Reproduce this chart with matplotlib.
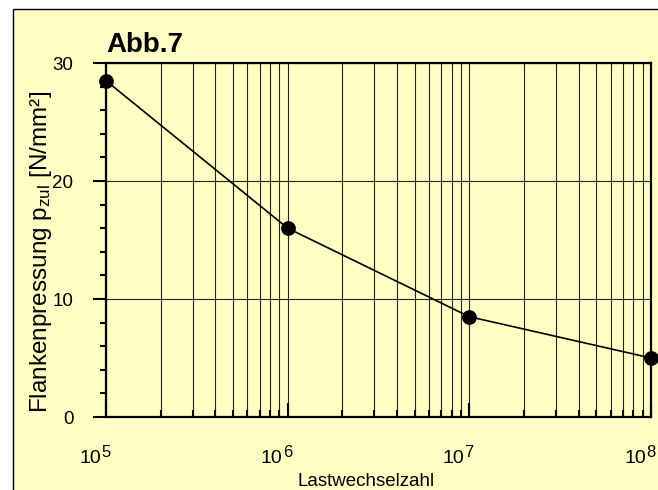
import matplotlib
import matplotlib.pyplot as plt
from matplotlib.patches import Rectangle
from matplotlib.ticker import LogLocator, MultipleLocator, NullFormatter

matplotlib.use("Agg")

plt.rcParams["font.family"] = ["Liberation Sans", "DejaVu Sans"]
plt.rcParams["mathtext.fontset"] = "custom"
plt.rcParams["mathtext.rm"] = "Liberation Sans"
plt.rcParams["mathtext.it"] = "Liberation Sans:italic"

# Data
lastwechsel = [1.0e5, 1.0e6, 1.0e7, 1.0e8]
pressung = [28.5, 16.0, 8.5, 5.0]

x_exponents = [5, 6, 7, 8]
title_text = "Abb.7"
x_label = "Lastwechselzahl"
y_label = r"Flankenpressung p$_{\mathrm{zul}}$ [N/mm²]"

bg = "#FFFFC4"
W, H = 658, 490
PX = 0.72  # points per pixel at dpi 100

fig = plt.figure(figsize=(W / 100, H / 100), dpi=100, facecolor="white")

# Chart area frame (cut off at right and bottom)
fig.patches.append(Rectangle((13 / W, -0.05), 1.1, 1 - 9 / H + 0.05,
                             transform=fig.transFigure, facecolor=bg,
                             edgecolor="black", linewidth=1.0, zorder=-10))

ax = fig.add_axes([106 / W, 1 - 417 / H, (651 - 106) / W, (417 - 63) / H])
ax.set_facecolor(bg)

ax.plot(lastwechsel, pressung, color="black", linewidth=1.2, marker="o",
        markersize=9.6, clip_on=False, zorder=5)

ax.set_xscale("log")
ax.set_xlim(1e5, 1e8)
ax.set_ylim(0, 30)
ax.set_xticks([10.0 ** e for e in x_exponents])
ax.xaxis.set_minor_locator(LogLocator(base=10, subs=range(2, 10), numticks=20))
ax.xaxis.set_minor_formatter(NullFormatter())
ax.set_xticklabels([])
ax.yaxis.set_major_locator(MultipleLocator(10))
ax.yaxis.set_minor_locator(MultipleLocator(2))

ax.grid(True, which="both", axis="x", color="#222222", linewidth=0.8)
ax.grid(True, which="major", axis="y", color="#222222", linewidth=0.8)
ax.set_axisbelow(True)

for s in ax.spines.values():
    s.set_linewidth(1.6)

ax.tick_params(axis="x", which="major", direction="in", length=10, width=1.5)
ax.tick_params(axis="x", which="minor", direction="in", length=5, width=1.5)
ax.tick_params(axis="y", which="major", direction="out", length=9.5, width=1.5,
               pad=14, labelsize=13.5)
ax.tick_params(axis="y", which="minor", direction="out", length=4.5, width=1.5)

# Excel-style power labels: large superscript
for e in x_exponents:
    ax.annotate("10", xy=(10.0 ** e, 0), xycoords=("data", "axes fraction"),
                xytext=(-5 * PX, -46 * PX), textcoords="offset points",
                ha="right", va="baseline", fontsize=14, annotation_clip=False)
    ax.annotate(str(e), xy=(10.0 ** e, 0), xycoords=("data", "axes fraction"),
                xytext=(-5 * PX, -40 * PX), textcoords="offset points",
                ha="left", va="baseline", fontsize=12, annotation_clip=False)

fig.text(106 / W, 1 - 52 / H, title_text, fontsize=20, fontweight="bold",
         ha="left", va="baseline")
fig.text(366 / W, 0.5 / H, x_label, fontsize=13.5, ha="center", va="bottom")
fig.text(41 / W, 1 - 252 / H, y_label, fontsize=17.5, rotation=90,
         ha="center", va="center")

fig.savefig("out.png", dpi=100, facecolor=fig.get_facecolor())
